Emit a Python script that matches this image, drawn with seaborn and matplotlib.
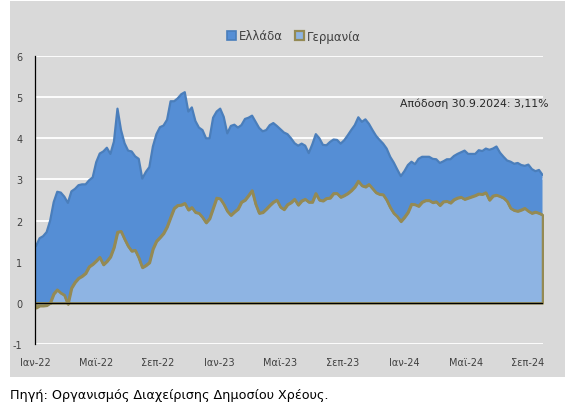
import matplotlib
matplotlib.use("Agg")
import matplotlib.pyplot as plt
from matplotlib.patches import Rectangle, Patch
import seaborn as sns
import pandas as pd

# Weekly 10y yields (Jan 2022 - Sep 2024)
dates = pd.date_range("2022-01-03", "2024-09-30", freq="7D")

greece = [
    1.38, 1.57, 1.62, 1.72, 2.00, 2.45, 2.70, 2.68, 2.58, 2.43,
    2.71, 2.77, 2.86, 2.88, 2.88, 2.98, 3.05, 3.42, 3.63, 3.68,
    3.77, 3.62, 3.92, 4.72, 4.20, 3.88, 3.70, 3.68, 3.56, 3.50,
    3.02, 3.18, 3.30, 3.80, 4.10, 4.27, 4.31, 4.45, 4.90, 4.90,
    4.97, 5.07, 5.12, 4.65, 4.75, 4.42, 4.26, 4.20, 4.00, 4.00,
    4.50, 4.65, 4.72, 4.52, 4.12, 4.30, 4.33, 4.26, 4.32, 4.47,
    4.50, 4.55, 4.40, 4.25, 4.17, 4.20, 4.32, 4.37, 4.30, 4.22,
    4.14, 4.10, 4.00, 3.88, 3.82, 3.87, 3.82, 3.64, 3.85, 4.10,
    4.00, 3.84, 3.83, 3.91, 3.97, 3.96, 3.87, 3.95, 4.07, 4.20,
    4.32, 4.51, 4.40, 4.46, 4.35, 4.20, 4.06, 3.96, 3.87, 3.75,
    3.55, 3.41, 3.24, 3.08, 3.20, 3.35, 3.43, 3.37, 3.50, 3.55,
    3.55, 3.55, 3.50, 3.49, 3.40, 3.44, 3.49, 3.49, 3.57, 3.62,
    3.66, 3.70, 3.62, 3.62, 3.62, 3.71, 3.69, 3.75, 3.72, 3.75,
    3.80, 3.65, 3.55, 3.46, 3.43, 3.38, 3.40, 3.35, 3.33, 3.36,
    3.25, 3.20, 3.23, 3.11,
]

germany = [
    -0.12, -0.07, -0.07, -0.06, 0.00, 0.22, 0.32, 0.24, 0.19, -0.03,
    0.36, 0.50, 0.60, 0.65, 0.72, 0.88, 0.94, 1.02, 1.11, 0.93,
    1.01, 1.12, 1.35, 1.72, 1.74, 1.55, 1.38, 1.26, 1.28, 1.10,
    0.86, 0.91, 0.98, 1.31, 1.50, 1.59, 1.69, 1.85, 2.08, 2.30,
    2.37, 2.38, 2.42, 2.26, 2.32, 2.20, 2.18, 2.08, 1.95, 2.05,
    2.30, 2.55, 2.53, 2.40, 2.23, 2.13, 2.21, 2.28, 2.45, 2.50,
    2.61, 2.73, 2.40, 2.18, 2.20, 2.28, 2.37, 2.45, 2.50, 2.33,
    2.27, 2.39, 2.44, 2.52, 2.38, 2.48, 2.52, 2.45, 2.45, 2.66,
    2.50, 2.48, 2.54, 2.55, 2.66, 2.66, 2.57, 2.61, 2.66, 2.73,
    2.82, 2.96, 2.85, 2.82, 2.88, 2.78, 2.68, 2.64, 2.63, 2.50,
    2.32, 2.18, 2.10, 1.98, 2.08, 2.20, 2.40, 2.39, 2.35, 2.45,
    2.49, 2.49, 2.44, 2.46, 2.37, 2.46, 2.47, 2.43, 2.51, 2.55,
    2.57, 2.52, 2.55, 2.58, 2.61, 2.65, 2.64, 2.68, 2.50, 2.60,
    2.62, 2.59, 2.55, 2.47, 2.30, 2.25, 2.23, 2.26, 2.30, 2.23,
    2.18, 2.21, 2.18, 2.14,
]

series_names = ["Ελλάδα", "Γερμανία"]
month_names = {1: "Ιαν", 5: "Μαϊ", 9: "Σεπ"}
y_ticks = [-1, 0, 1, 2, 3, 4, 5, 6]

df = pd.DataFrame({"date": dates, "gr": greece, "de": germany})

gr_fill, gr_edge = "#558ed5", "#4a7ebb"
de_fill, de_edge = "#8eb4e3", "#948a54"
bg = "#d9d9d9"
txt = "#404040"

sns.set_style("white")
plt.rcParams["font.family"] = ["DejaVu Sans"]

fig = plt.figure(figsize=(5.65, 4.14), dpi=100)
fig.patch.set_facecolor("white")
fig.patches.append(Rectangle((10 / 565, 1 - 378 / 414), 555 / 565, 376 / 414,
                             transform=fig.transFigure, facecolor=bg,
                             edgecolor="none", zorder=-5))

ax = fig.add_axes([35 / 565, 1 - 345 / 414, 507.5 / 565, 288 / 414])
ax.set_facecolor(bg)
ax.set_zorder(1)

# areas
ax.fill_between(df["date"], 0, df["gr"], facecolor=gr_fill, edgecolor="none", zorder=2)
sns.lineplot(data=df, x="date", y="gr", color=gr_edge, linewidth=1.6, ax=ax, zorder=3)
ax.fill_between(df["date"], 0, df["de"], facecolor=de_fill, edgecolor=de_edge,
                linewidth=1.8, zorder=4)
sns.lineplot(data=df, x="date", y="de", color=de_edge, linewidth=1.8, ax=ax, zorder=5)
ax.axhline(0, color="black", linewidth=0.9, zorder=6)

ax.set_xlim(dates[0], dates[-1])
ax.set_ylim(-1, 6)
ax.set_yticks(y_ticks)
ax.set_yticklabels([str(t) for t in y_ticks])

tick_dates = [d for d in pd.date_range("2022-01-01", "2024-09-30", freq="MS") if d.month in month_names]
ax.set_xticks(tick_dates)
ax.set_xticklabels([f"{month_names[d.month]}-{d.strftime('%y')}" for d in tick_dates])

ax.set_axisbelow(True)
ax.yaxis.grid(True, color="white", linewidth=1.3)
ax.xaxis.grid(False)
ax.tick_params(axis="both", length=0, labelsize=7, colors=txt)
ax.tick_params(axis="y", pad=9)
ax.tick_params(axis="x", pad=9)
ax.set_xlabel("")
ax.set_ylabel("")

for side in ["top", "right", "bottom"]:
    ax.spines[side].set_visible(False)
ax.spines["left"].set_color("black")
ax.spines["left"].set_linewidth(0.9)
ax.spines["left"].set_zorder(7)

handles = [Patch(facecolor=gr_fill, edgecolor=gr_edge, linewidth=1.2),
           Patch(facecolor=de_fill, edgecolor=de_edge, linewidth=1.6)]
fig.legend(handles, series_names, loc="center", bbox_to_anchor=(294 / 565, 1 - 37 / 414),
           ncol=2, frameon=False, fontsize=8.5, handlelength=0.75, handleheight=0.75,
           handletextpad=0.3, columnspacing=1.0, labelcolor=txt)

fig.text(548 / 565, 1 - 104 / 414, "Απόδοση 30.9.2024: 3,11%", ha="right", va="center",
         fontsize=7.8, color="#262626")

fig.text(10 / 565, 1 - 396 / 414, "Πηγή: Οργανισμός Διαχείρισης Δημοσίου Χρέους.",
         ha="left", va="center", fontsize=9.2, color="black")

fig.savefig("out.png", dpi=100, facecolor="white")
